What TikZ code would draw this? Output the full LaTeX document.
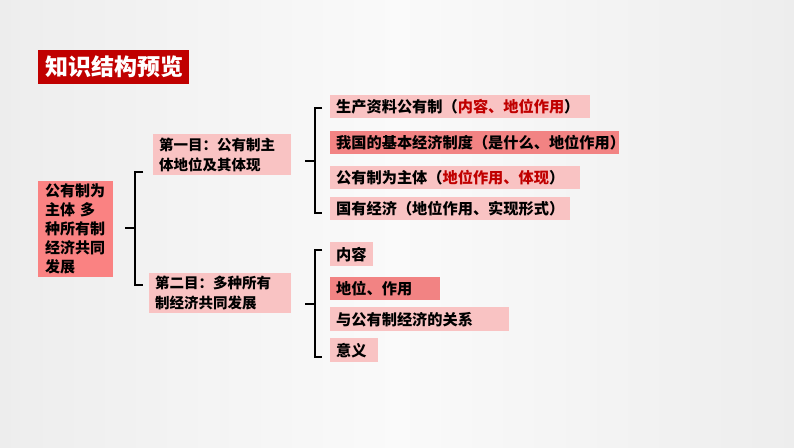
\documentclass[tikz,border=0pt]{standalone}
\usepackage{fontspec}
\setmainfont{Noto Sans CJK SC}
\definecolor{titlered}{HTML}{C00000}
\definecolor{pinkL}{HTML}{F9C3C3}
\definecolor{pinkD}{HTML}{F28383}
\definecolor{pinkM}{HTML}{FA8282}
\definecolor{txtred}{HTML}{C00000}
\begin{document}
\begin{tikzpicture}[x=1pt,y=-1pt,
  box/.style={anchor=north west, inner xsep=6pt, inner ysep=0pt, align=left,
    font=\fontsize{14.5}{20}\selectfont\bfseries, text=black},
  itemfont/.style={font=\fontsize{15.2}{20}\selectfont\bfseries},
  brk/.style={line width=2.4pt, black, line join=miter},
  brkshadow/.style={line width=2pt, black!30, line join=miter}]
\shade[left color=black!7, right color=black!7, middle color=white!98!black] (0,0) rectangle (794,447);
\useasboundingbox (0,0) rectangle (794,447);

% title
\node[anchor=north west, fill=titlered, text=white, inner xsep=7pt, inner ysep=0pt,
  minimum height=34pt, text width=137pt, align=left,
  font=\fontsize{23}{23}\selectfont\bfseries] (title) at (38,50) {知识结构预览};

% root
\node[box, fill=pinkM, minimum height=96pt, inner xsep=7pt, text width=61pt,
  font=\fontsize{15}{19}\selectfont\bfseries] (root) at (38,181)
  {公有制为\\主体 多\\种所有制\\经济共同\\发展};

% level 2
\node[box, fill=pinkL, minimum height=41pt, text width=126pt] (s1) at (153,134)
  {第一目：公有制主\\体地位及其体现};
\node[box, fill=pinkL, minimum height=40pt, text width=130pt] (s2) at (149,273)
  {第二目：多种所有\\制经济共同发展};

% items group 1
\node[box, itemfont, fill=pinkL, minimum height=23pt, text width=248pt] (a1) at (330,95)
  {生产资料公有制（\textcolor{txtred}{内容、地位作用}）};
\node[box, itemfont, fill=pinkD, minimum height=23pt, text width=277pt] (a2) at (330,131)
  {我国的基本经济制度（是什么、地位作用）};
\node[box, itemfont, fill=pinkL, minimum height=23pt, text width=238pt] (a3) at (330,166)
  {公有制为主体（\textcolor{txtred}{地位作用、体现}）};
\node[box, itemfont, fill=pinkL, minimum height=23pt, text width=228pt] (a4) at (330,197)
  {国有经济（地位作用、实现形式）};

% items group 2
\node[box, itemfont, fill=pinkL, minimum height=24pt, text width=31pt] (b1) at (330,242) {内容};
\node[box, itemfont, fill=pinkD, minimum height=23pt, text width=98pt] (b2) at (330,277) {地位、作用};
\node[box, itemfont, fill=pinkL, minimum height=24pt, text width=167pt] (b3) at (330,307) {与公有制经济的关系};
\node[box, itemfont, fill=pinkL, minimum height=24pt, text width=36pt] (b4) at (330,338) {意义};

% bracket coordinates
\coordinate (k1t) at (143,172); \coordinate (k1b) at (143,285); \coordinate (k1m) at (135,228);
\coordinate (k2t) at (322,108); \coordinate (k2b) at (322,213); \coordinate (k2m) at (315,161);
\coordinate (k3t) at (322,250); \coordinate (k3b) at (322,357); \coordinate (k3m) at (315,304);

% shadows
\begin{scope}[shift={(5,1)}]
\draw[brkshadow] (k1t) -- ++(-8,0) -- ([xshift=-8pt]k1b) -- (k1b);
\draw[brkshadow] (k2t) -- ++(-7,0) -- ([xshift=-7pt]k2b) -- (k2b);
\draw[brkshadow] (k3t) -- ++(-7,0) -- ([xshift=-7pt]k3b) -- (k3b);
\end{scope}

% brackets
\draw[brk] (k1t) -- ++(-8,0) -- ([xshift=-8pt]k1b) -- (k1b);
\draw[brk] ([xshift=-10pt]k1m) -- (k1m);
\draw[brk] (k2t) -- ++(-7,0) -- ([xshift=-7pt]k2b) -- (k2b);
\draw[brk] ([xshift=-10pt]k2m) -- (k2m);
\draw[brk] (k3t) -- ++(-7,0) -- ([xshift=-7pt]k3b) -- (k3b);
\draw[brk] ([xshift=-10pt]k3m) -- (k3m);
\end{tikzpicture}
\end{document}
